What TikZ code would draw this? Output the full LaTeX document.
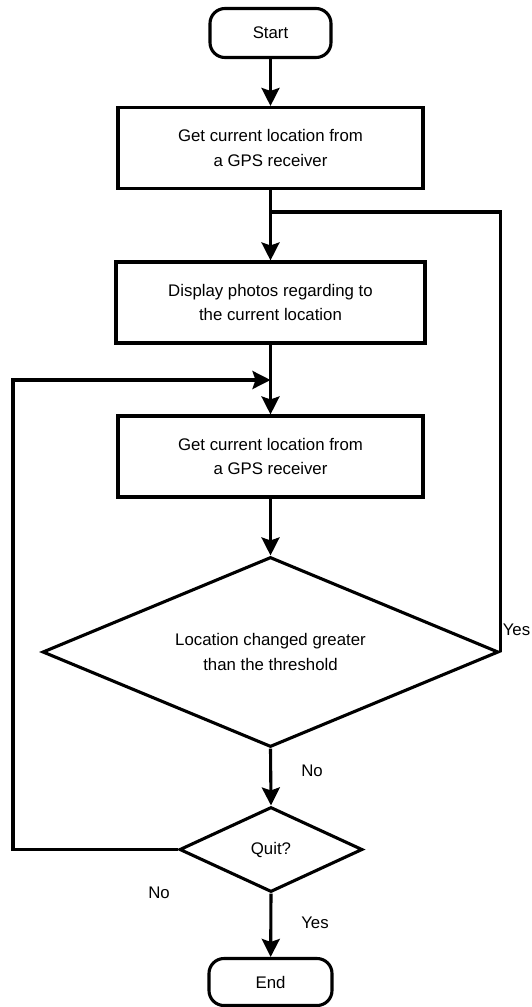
\documentclass[tikz,border=0pt]{standalone}
\usepackage{fontspec}
\setmainfont{Liberation Sans}
\usetikzlibrary{shapes.geometric,arrows.meta}

\begin{document}
\begin{tikzpicture}[x=1pt,y=-1pt,
  every node/.style={font=\fontsize{16.8}{24.5}\selectfont},
  base/.style={draw,line width=3.1pt,align=center,inner sep=0pt},
  term/.style={base,rounded corners=15pt,minimum width=121pt,minimum height=49pt},
  proc/.style={base,minimum height=81pt},
  dec/.style={base,diamond,shape aspect=2.4},
  lbl/.style={inner sep=0pt},
  link/.style={line width=3.1pt},
  flow/.style={link,-{Stealth[length=18pt,width=18pt,inset=3pt]}}]
\useasboundingbox (0,0) rectangle (532,1007);

% boxes of the flow
\node[term] (start) at (270.5,33) {Start};
\node[proc,minimum width=305pt] (get1) at (270.5,148)
  {Get current location from\\a GPS receiver};
\node[proc,minimum width=309pt] (disp) at (270.5,302.5)
  {Display photos regarding to\\the current location};
\node[proc,minimum width=305pt] (get2) at (270.5,456.5)
  {Get current location from\\a GPS receiver};
\node[dec,minimum width=456pt,minimum height=190pt] (d1) at (270.5,652)
  {Location changed greater\\than the threshold};
\node[dec,minimum width=183pt,minimum height=85pt] (quit) at (271,849.5) {Quit?};
\node[term,minimum width=123pt,minimum height=47pt] (stop) at (270.5,982) {End};

% branch labels
\node[lbl] (yes1) at (516.5,630) {Yes};
\node[lbl] (no1) at (312,771) {No};
\node[lbl] (no2) at (159,893) {No};
\node[lbl] (yes2) at (315,923) {Yes};

% joining points of the loops
\coordinate (j1) at (270.5,212);
\coordinate (j2) at (270.5,380);
\coordinate (lc) at (13,849.5);

% connectors
\draw[flow] (start) -- (get1);
\draw[flow] (get1) -- (disp);
\draw[link] (d1.east) |- (j1);
\draw[flow] (disp) -- (get2);
\draw[flow] (quit.west) -- (lc) |- (j2);
\draw[flow] (get2) -- (d1.north);
\draw[flow] (d1.south) -- (quit.north);
\draw[flow] (quit.south) -- (stop);
\end{tikzpicture}
\end{document}
